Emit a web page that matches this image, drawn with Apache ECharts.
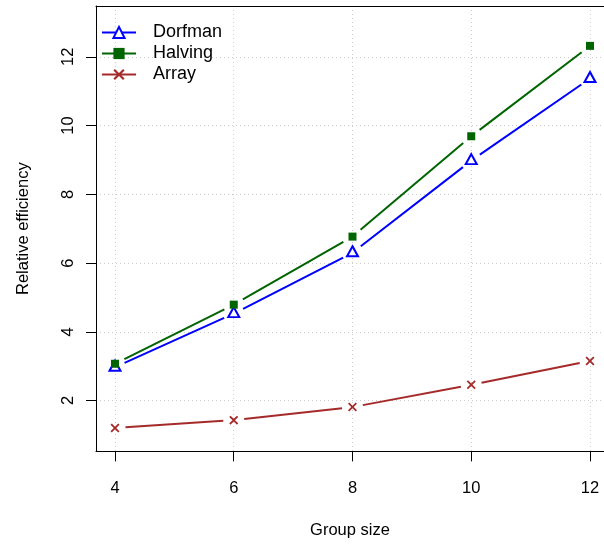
<!DOCTYPE html>
<html><head><meta charset="utf-8">
<script src="https://cdn.jsdelivr.net/npm/echarts@6/dist/echarts.min.js"></script>
<style>html,body{margin:0;padding:0;background:#fff}#c{width:604px;height:550px}</style>
</head><body><div id="c"></div>
<script>
// ---- data ----
const groupSize = [4, 6, 8, 10, 12];
const dorfman   = [2.97, 4.53, 6.30, 8.98, 11.37];
const halving   = [3.07, 4.79, 6.77, 9.69, 12.32];
const arrayEff  = [1.20, 1.43, 1.81, 2.46, 3.15];
const xTicks = [4, 6, 8, 10, 12];
const yTicks = [2, 4, 6, 8, 10, 12];
const seriesNames = ['Dorfman', 'Halving', 'Array'];

// ---- styling ----
const FONT = '"Liberation Sans", Arial, Helvetica, sans-serif';
const GAP = 10.5;
const X_PATH = 'path://M0,1.4L1.4,0L5,3.6L8.6,0L10,1.4L6.4,5L10,8.6L8.6,10L5,6.4L1.4,10L0,8.6L3.6,5Z';
const specs = [
  { name: seriesNames[0], values: dorfman, color: '#0000FF', symbol: 'triangle', size: [11, 10], fill: '#ffffff', bw: 2, offset: [0, -1.5] },
  { name: seriesNames[1], values: halving, color: '#006400', symbol: 'rect', size: 8, fill: '#006400', bw: 0, offset: [0, 0] },
  { name: seriesNames[2], values: arrayEff, color: '#A52A2A', symbol: X_PATH, size: 9, fill: '#A52A2A', bw: 0, offset: [0, 0] }
];

function segRender(color) {
  return function (params, api) {
    const p1 = api.coord([api.value(0), api.value(1)]);
    const p2 = api.coord([api.value(2), api.value(3)]);
    const dx = p2[0] - p1[0], dy = p2[1] - p1[1];
    const L = Math.hypot(dx, dy);
    if (L <= 2 * GAP) return null;
    const ux = dx / L, uy = dy / L;
    return {
      type: 'line',
      shape: { x1: p1[0] + ux * GAP, y1: p1[1] + uy * GAP, x2: p2[0] - ux * GAP, y2: p2[1] - uy * GAP },
      style: { stroke: color, lineWidth: 2 }
    };
  };
}

const series = [];
specs.forEach(s => {
  const segs = [];
  for (let i = 0; i < groupSize.length - 1; i++) {
    segs.push([groupSize[i], s.values[i], groupSize[i + 1], s.values[i + 1]]);
  }
  series.push({
    type: 'custom', name: s.name + ' segments', renderItem: segRender(s.color),
    data: segs, encode: { x: [0, 2], y: [1, 3] }, silent: true, z: 2
  });
  series.push({
    type: 'line', name: s.name,
    data: groupSize.map((x, i) => [x, s.values[i]]),
    symbol: s.symbol, symbolSize: s.size, symbolOffset: s.offset, showSymbol: true,
    lineStyle: { color: s.color, width: 2, opacity: 0 },
    itemStyle: { color: s.fill, borderColor: s.color, borderWidth: s.bw, opacity: 1 },
    emphasis: { disabled: true }, z: 3
  });
});

const axisText = { color: '#000', fontFamily: FONT, fontSize: 16.5 };
const grid = { left: 96, top: 6, right: 0, bottom: 98.6, containLabel: false };
const splitStyle = { show: true, lineStyle: { color: '#cccccc', type: [1, 3], width: 1 } };
const X_MIN = 3.68, X_MAX = 12.236;

const option = {
  animation: false,
  backgroundColor: '#ffffff',
  grid: grid,
  legend: {
    data: seriesNames, orient: 'vertical', left: 96, top: 18.5,
    itemWidth: 34, itemHeight: 14, itemGap: 3, selectedMode: false,
    lineStyle: { opacity: 1, width: 2 },
    textStyle: { color: '#000', fontFamily: FONT, fontSize: 18, padding: [0, 0, 0, 12] }
  },
  xAxis: [
    {
      type: 'value', min: X_MIN, max: X_MAX, position: 'bottom',
      axisLine: { show: true, onZero: false, lineStyle: { color: '#000', width: 1 } },
      axisTick: { show: true, length: 10, customValues: xTicks, lineStyle: { color: '#000', width: 1 } },
      axisLabel: Object.assign({ customValues: xTicks, margin: 29 }, axisText),
      splitLine: splitStyle,
      name: 'Group size', nameLocation: 'middle', nameGap: 71,
      nameTextStyle: axisText
    },
    {
      type: 'value', min: X_MIN, max: X_MAX, position: 'top',
      axisLine: { show: true, onZero: false, lineStyle: { color: '#000', width: 1 } },
      axisTick: { show: false }, axisLabel: { show: false }, splitLine: { show: false }
    }
  ],
  yAxis: {
    type: 'value', min: 0.52, max: 13.48,
    axisLine: { show: true, onZero: false, lineStyle: { color: '#000', width: 1 } },
    axisTick: { show: true, length: 10, customValues: yTicks, lineStyle: { color: '#000', width: 1 } },
    axisLabel: Object.assign({ customValues: yTicks, margin: 19, rotate: 90 }, axisText),
    splitLine: splitStyle,
    name: 'Relative efficiency', nameLocation: 'middle', nameGap: 64,
    nameTextStyle: axisText
  },
  series: series
};

const chart = echarts.init(document.getElementById('c'), null, { renderer: 'canvas' });
chart.setOption(option);
</script>
</body></html>
